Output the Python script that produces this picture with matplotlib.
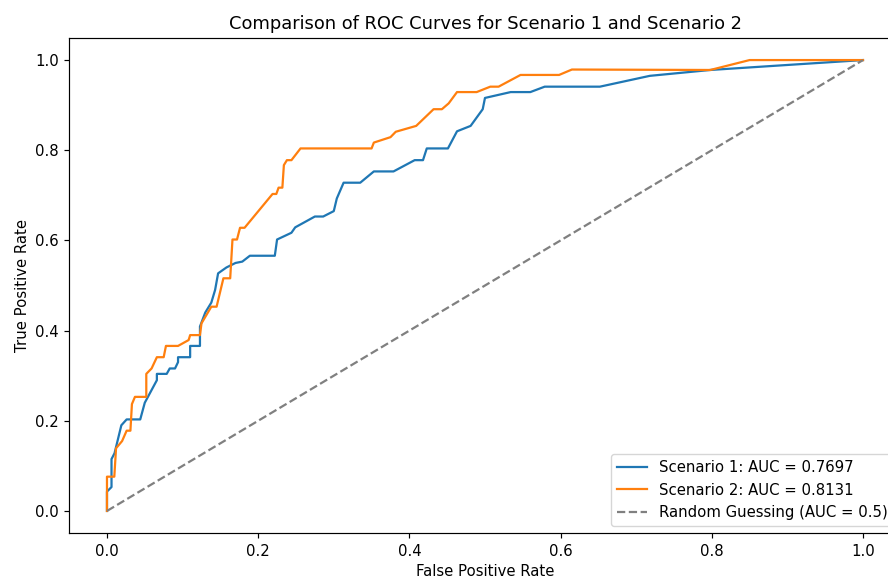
import matplotlib
matplotlib.use("Agg")
import matplotlib.pyplot as plt

# Scenario 1 ROC points
fpr1 = [0.0, 0.0, 0.006, 0.006, 0.010, 0.019, 0.026, 0.044, 0.050, 0.058, 0.066, 0.066, 0.079,
        0.083, 0.090, 0.094, 0.094, 0.110, 0.110, 0.123, 0.123, 0.130, 0.138, 0.143, 0.147,
        0.158, 0.170, 0.179, 0.189, 0.222, 0.225, 0.244, 0.249, 0.275, 0.286, 0.300, 0.304,
        0.313, 0.335, 0.353, 0.379, 0.407, 0.418, 0.423, 0.451, 0.463, 0.481, 0.497, 0.500,
        0.534, 0.560, 0.579, 0.652, 0.718, 0.798, 1.0]
tpr1 = [0.0, 0.043, 0.053, 0.115, 0.128, 0.190, 0.203, 0.203, 0.240, 0.265, 0.290, 0.304, 0.304,
        0.316, 0.316, 0.330, 0.341, 0.341, 0.366, 0.366, 0.409, 0.440, 0.462, 0.490, 0.527,
        0.540, 0.550, 0.553, 0.566, 0.566, 0.602, 0.617, 0.629, 0.653, 0.653, 0.665, 0.693,
        0.728, 0.728, 0.753, 0.753, 0.778, 0.778, 0.804, 0.804, 0.842, 0.854, 0.891, 0.916,
        0.929, 0.929, 0.941, 0.941, 0.965, 0.978, 1.0]

# Scenario 2 ROC points
fpr2 = [0.0, 0.0, 0.0097, 0.012, 0.020, 0.026, 0.031, 0.033, 0.037, 0.052, 0.052, 0.059, 0.066,
        0.075, 0.078, 0.094, 0.108, 0.110, 0.123, 0.125, 0.138, 0.145, 0.154, 0.163, 0.166,
        0.172, 0.176, 0.182, 0.219, 0.224, 0.227, 0.232, 0.234, 0.238, 0.244, 0.256, 0.350,
        0.353, 0.375, 0.382, 0.409, 0.432, 0.443, 0.452, 0.463, 0.489, 0.507, 0.518, 0.547,
        0.598, 0.615, 0.798, 0.850, 1.0]
tpr2 = [0.0, 0.076, 0.076, 0.139, 0.155, 0.178, 0.178, 0.237, 0.253, 0.253, 0.304, 0.316, 0.341,
        0.341, 0.366, 0.366, 0.379, 0.390, 0.390, 0.416, 0.453, 0.453, 0.516, 0.516, 0.602,
        0.602, 0.628, 0.628, 0.703, 0.703, 0.717, 0.717, 0.767, 0.778, 0.778, 0.804, 0.804,
        0.817, 0.829, 0.841, 0.854, 0.891, 0.891, 0.904, 0.929, 0.929, 0.941, 0.941, 0.967,
        0.967, 0.979, 0.978, 1.0, 1.0]

auc1 = 0.7697
auc2 = 0.8131

s = 1.07
plt.rcParams.update({
    "font.size": 10 * s,
    "lines.linewidth": 1.5 * s,
    "axes.linewidth": 0.8 * s,
    "xtick.major.size": 3.5 * s,
    "ytick.major.size": 3.5 * s,
    "xtick.major.width": 0.8 * s,
    "ytick.major.width": 0.8 * s,
    "legend.fontsize": 10 * s,
    "axes.titlesize": 12 * s,
})

fig = plt.figure(figsize=(8.88, 5.79), dpi=100)
ax = fig.add_axes([0.0779, 0.0786, 0.9365, 0.8566])
ax.plot(fpr1, tpr1, label=f"Scenario 1: AUC = {auc1:.4f}")
ax.plot(fpr2, tpr2, label=f"Scenario 2: AUC = {auc2:.4f}")
ax.plot([0, 1], [0, 1], linestyle="--", color="gray", label="Random Guessing (AUC = 0.5)")
ax.set_xlabel("False Positive Rate")
ax.set_ylabel("True Positive Rate")
ax.set_title("Comparison of ROC Curves for Scenario 1 and Scenario 2")
ax.legend(loc="lower right")
fig.savefig("out.png", dpi=100)
